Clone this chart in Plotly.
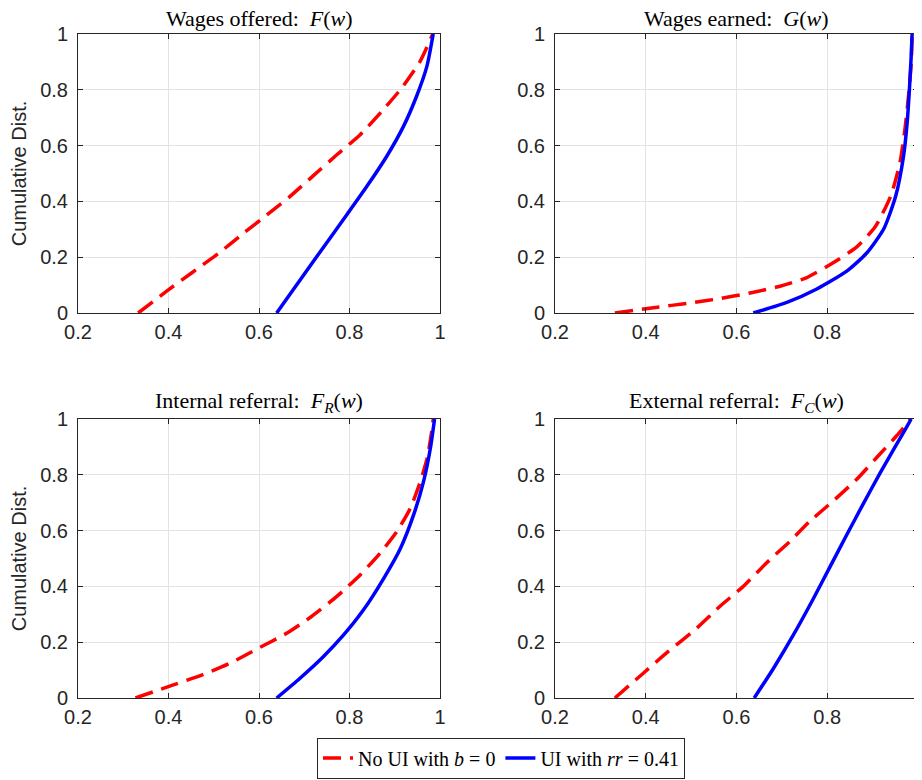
import plotly.graph_objects as go

# ---- data ----
tl_red_x = [0.333, 0.399, 0.454, 0.510, 0.565, 0.617, 0.668, 0.722, 0.772, 0.823, 0.871, 0.915, 0.956, 0.984]
tl_red_y = [0.0, 0.082, 0.147, 0.213, 0.285, 0.351, 0.417, 0.495, 0.567, 0.638, 0.722, 0.806, 0.902, 1.0]
tl_blue_x = [0.639, 0.735, 0.794, 0.838, 0.882, 0.919, 0.948, 0.971, 0.985]
tl_blue_y = [0.0, 0.219, 0.352, 0.453, 0.561, 0.668, 0.776, 0.884, 1.0]

tr_red_x = [0.332, 0.417, 0.498, 0.564, 0.630, 0.696, 0.755, 0.813, 0.865, 0.906, 0.940, 0.960, 0.971, 0.979, 0.985, 0.987]
tr_red_y = [0.0, 0.019, 0.036, 0.052, 0.072, 0.096, 0.127, 0.180, 0.237, 0.310, 0.420, 0.537, 0.656, 0.776, 0.896, 1.0]
tr_blue_x = [0.637, 0.711, 0.777, 0.843, 0.887, 0.925, 0.951, 0.968, 0.976, 0.981, 0.985, 0.987]
tr_blue_y = [0.0, 0.038, 0.086, 0.150, 0.215, 0.303, 0.420, 0.561, 0.680, 0.800, 0.920, 1.0]

bl_red_x = [0.327, 0.409, 0.476, 0.535, 0.598, 0.661, 0.716, 0.772, 0.824, 0.868, 0.905, 0.935, 0.957, 0.972, 0.983, 0.985]
bl_red_y = [0.0, 0.046, 0.084, 0.124, 0.178, 0.232, 0.292, 0.364, 0.442, 0.520, 0.598, 0.682, 0.778, 0.862, 0.970, 1.0]
bl_blue_x = [0.639, 0.690, 0.742, 0.787, 0.831, 0.876, 0.913, 0.942, 0.964, 0.979, 0.988]
bl_blue_y = [0.0, 0.070, 0.148, 0.226, 0.316, 0.430, 0.538, 0.658, 0.778, 0.898, 1.0]

br_red_x = [0.332, 0.394, 0.449, 0.508, 0.563, 0.615, 0.666, 0.718, 0.762, 0.813, 0.865, 0.909, 0.953, 0.984]
br_red_y = [0.0, 0.088, 0.166, 0.244, 0.328, 0.400, 0.484, 0.562, 0.634, 0.706, 0.784, 0.862, 0.940, 1.0]
br_blue_x = [0.639, 0.681, 0.725, 0.769, 0.806, 0.843, 0.879, 0.916, 0.953, 0.972, 0.985]
br_blue_y = [0.0, 0.105, 0.225, 0.355, 0.470, 0.585, 0.695, 0.805, 0.910, 0.963, 1.0]

titles = [
    "Wages offered:  <i>F</i>(<i>w</i>)",
    "Wages earned:  <i>G</i>(<i>w</i>)",
    "Internal referral:  <i>F<sub>R</sub></i>(<i>w</i>)",
    "External referral:  <i>F<sub>C</sub></i>(<i>w</i>)",
]
x_ticks = [0.2, 0.4, 0.6, 0.8, 1.0]
x_ticktext = ["0.2", "0.4", "0.6", "0.8", "1"]
y_ticks = [0, 0.2, 0.4, 0.6, 0.8, 1.0]
y_ticktext = ["0", "0.2", "0.4", "0.6", "0.8", "1"]
legend_names = ["No UI with <i>b</i> = 0", "UI with <i>rr</i> = 0.41"]

panels = [
    (tl_red_x, tl_red_y, tl_blue_x, tl_blue_y),
    (tr_red_x, tr_red_y, tr_blue_x, tr_blue_y),
    (bl_red_x, bl_red_y, bl_blue_x, bl_blue_y),
    (br_red_x, br_red_y, br_blue_x, br_blue_y),
]

# page body adds an 8px margin, so the figure is 8px smaller and positions are shifted
OFF = 8
W, H = 922 - OFF, 780 - OFF


def px_x(p):
    return (p - OFF) / W


def px_y(p):
    return 1 - (p - OFF) / H


xdoms = [(px_x(78), px_x(440)), (px_x(555), px_x(918))]
ydoms = [(px_y(313), px_y(34)), (px_y(698), px_y(419))]

fig = go.Figure()
serif = "Liberation Serif"
sans = "Liberation Sans"

for i, (rx, ry, bx, by) in enumerate(panels):
    row, col = divmod(i, 2)
    n = "" if i == 0 else str(i + 1)
    fig.add_trace(go.Scatter(x=rx, y=ry, mode="lines",
                             line=dict(color="#ff0000", width=3.5, dash="18px,9px", shape="spline", smoothing=0.6),
                             name=legend_names[0], showlegend=(i == 0), xaxis="x" + n, yaxis="y" + n))
    fig.add_trace(go.Scatter(x=bx, y=by, mode="lines",
                             line=dict(color="#0000ff", width=3.5, shape="spline", smoothing=0.6),
                             name=legend_names[1], showlegend=(i == 0), xaxis="x" + n, yaxis="y" + n))
    common = dict(showgrid=True, gridcolor="#e3e3e3", gridwidth=1, zeroline=False,
                  showline=True, linecolor="#262626", linewidth=1, mirror="ticks",
                  ticks="inside", ticklen=5, tickcolor="#262626", automargin=False,
                  tickfont=dict(family=sans, size=20, color="#262626"))
    ax = dict(range=[0.2, 1.0], domain=xdoms[col], tickvals=x_ticks, ticktext=x_ticktext,
              anchor="y" + n, ticklabelstandoff=1, **common)
    ay = dict(range=[0, 1.0], domain=ydoms[row], tickvals=y_ticks, ticktext=y_ticktext,
              anchor="x" + n, ticklabelstandoff=5, **common)
    if col == 0:
        ay["title"] = dict(text="Cumulative Dist.", font=dict(family=sans, size=20, color="#262626"), standoff=10)
    fig.update_layout(**{"xaxis" + n: ax, "yaxis" + n: ay})
    fig.add_annotation(text=titles[i], xref="paper", yref="paper",
                       x=(xdoms[col][0] + xdoms[col][1]) / 2, y=ydoms[row][1],
                       xanchor="center", yanchor="bottom", yshift=1, showarrow=False,
                       font=dict(family=serif, size=22, color="#000000"))

fig.update_layout(
    width=W, height=H, margin=dict(l=0, r=0, t=0, b=0, autoexpand=False),
    paper_bgcolor="white", plot_bgcolor="white",
    legend=dict(orientation="h", x=px_x(501), xanchor="center", y=px_y(758), yanchor="middle",
                bgcolor="white", bordercolor="#262626", borderwidth=1,
                font=dict(family=serif, size=20, color="#000000"), tracegroupgap=0),
)

fig.write_html("out.html")
